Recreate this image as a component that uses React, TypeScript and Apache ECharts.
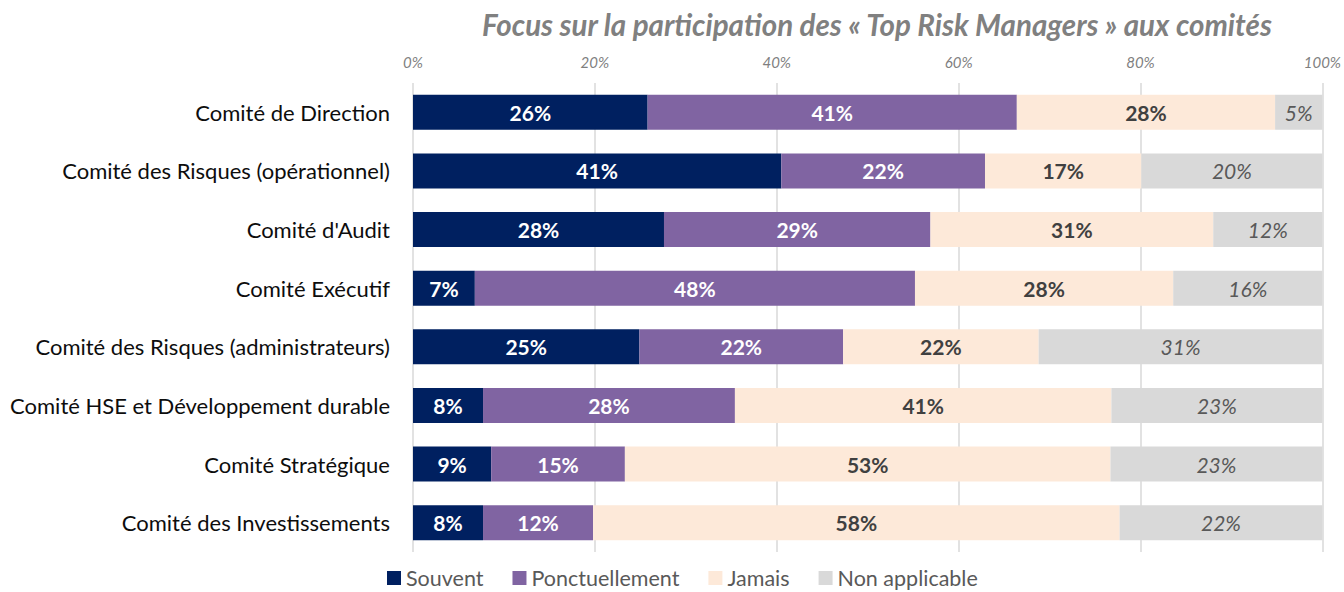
import React, { useEffect, useRef } from "react";
import * as echarts from "echarts";

const categories = [
  "Comité de Direction",
  "Comité des Risques (opérationnel)",
  "Comité d'Audit",
  "Comité Exécutif",
  "Comité des Risques (administrateurs)",
  "Comité HSE et Développement durable",
  "Comité Stratégique",
  "Comité des Investissements",
];

const souvent = [25.8, 40.5, 27.6, 6.8, 24.9, 7.7, 8.6, 7.7];
const ponctuellement = [40.6, 22.4, 29.3, 48.4, 22.4, 27.7, 14.7, 12.1];
const jamais = [28.4, 17.2, 31.1, 28.4, 21.5, 41.4, 53.4, 57.9];
const nonApplicable = [5.2, 19.9, 12.0, 16.4, 31.2, 23.2, 23.3, 22.3];

const xTicks = [0, 20, 40, 60, 80, 100];

const FONT = "Lato, 'Open Sans', sans-serif";

export default function App() {
  const ref = useRef<HTMLDivElement>(null);
  useEffect(() => {
    if (!ref.current) return;
    const chart = echarts.init(ref.current, null, { renderer: "svg" });
    const fmt = (p: any) => Math.round(p.value) + "%";
    const mk = (
      name: string,
      data: number[],
      color: string,
      labelColor: string,
      bold: boolean,
      italic: boolean
    ) => ({
      name,
      type: "bar",
      stack: "total",
      data,
      barWidth: 35,
      itemStyle: { color },
      label: {
        show: true,
        position: "inside",
        formatter: fmt,
        color: labelColor,
        fontFamily: FONT,
        fontSize: 21,
        fontWeight: bold ? "bold" : "normal",
        fontStyle: italic ? "italic" : "normal",
      },
    });
    chart.setOption({
      animation: false,
      backgroundColor: "#ffffff",
      title: {
        text: "Focus sur la participation des « Top Risk Managers » aux comités",
        left: 477,
        top: 4,
        textStyle: {
          fontFamily: FONT,
          fontSize: 29.5,
          fontWeight: "bold",
          fontStyle: "italic",
          color: "#808080",
        },
      },
      legend: {
        data: ["Souvent", "Ponctuellement", "Jamais", "Non applicable"],
        left: 387,
        top: 566,
        padding: 0,
        icon: "rect",
        itemWidth: 14,
        itemHeight: 14,
        itemGap: 29,
        textStyle: { fontFamily: FONT, fontSize: 21.5, color: "#595959", lineHeight: 24 },
      },
      grid: { left: 413, right: 21, top: 83, bottom: 40 },
      xAxis: {
        type: "value",
        position: "top",
        min: 0,
        max: 100,
        interval: 20,
        axisLine: { show: false },
        axisTick: { show: false },
        axisLabel: {
          formatter: (v: number) => (xTicks.includes(v) ? v + "%" : ""),
          fontFamily: FONT,
          fontSize: 15,
          fontStyle: "italic",
          color: "#7f7f7f",
          margin: 14,
        },
        splitLine: { show: true, lineStyle: { color: "#d9d9d9", width: 1.5 } },
      },
      yAxis: {
        type: "category",
        inverse: true,
        data: categories,
        axisLine: { show: false },
        axisTick: { show: false },
        axisLabel: {
          fontFamily: FONT,
          fontSize: 22,
          color: "#0d0d0d",
          margin: 23,
        },
      },
      series: [
        mk("Souvent", souvent, "#002060", "#ffffff", true, false),
        mk("Ponctuellement", ponctuellement, "#8064a2", "#ffffff", true, false),
        mk("Jamais", jamais, "#fde9d9", "#404040", true, false),
        mk("Non applicable", nonApplicable, "#d9d9d9", "#595959", false, true),
      ],
    });
    return () => chart.dispose();
  }, []);
  return (
    <div
      ref={ref}
      style={{ position: "fixed", left: 0, top: 0, width: 1344, height: 592 }}
    />
  );
}
